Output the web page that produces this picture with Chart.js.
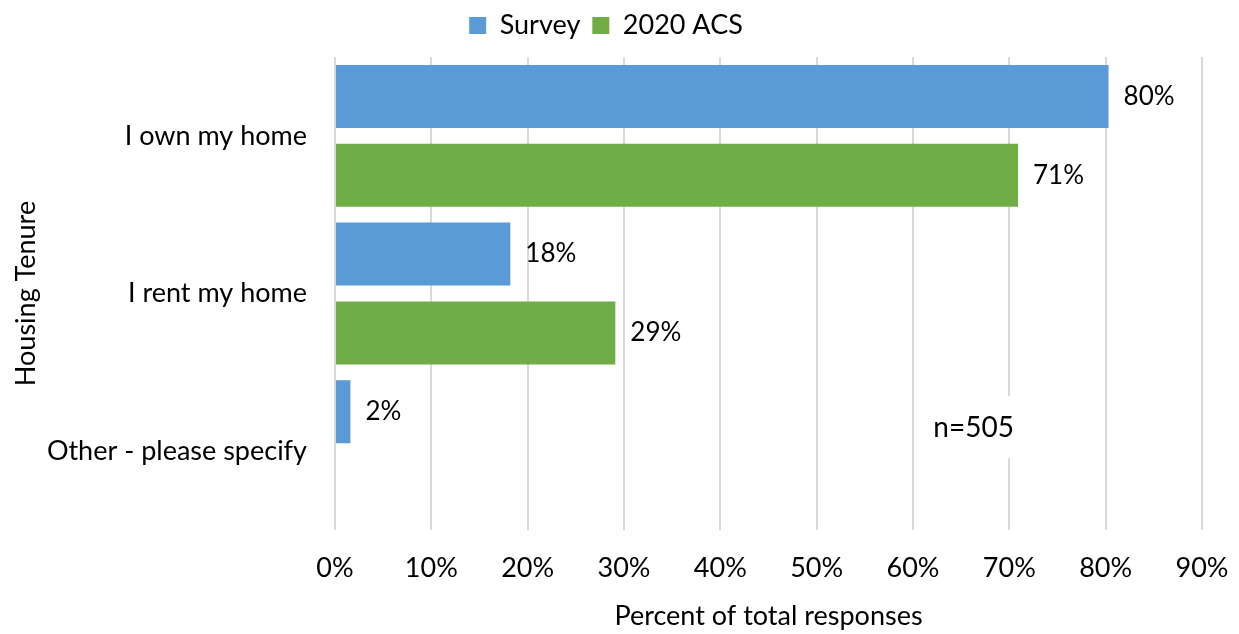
<!DOCTYPE html>
<html>
<head>
<meta charset="utf-8">
<script src="https://cdn.jsdelivr.net/npm/chart.js@4"></script>
<style>
  html, body { margin: 0; padding: 0; background: #fff; }
  #wrap { width: 1239px; height: 634px; }
</style>
</head>
<body>
<div id="wrap"><canvas id="tenureChart" width="1239" height="634"></canvas></div>
<script>
// data
const categories = ["I own my home", "I rent my home", "Other - please specify"];
const surveyValues = [80.3, 18.2, 1.6];
const acsValues = [70.9, 29.1, null];
const seriesNames = ["Survey", "2020 ACS"];
const xTicks = [0, 10, 20, 30, 40, 50, 60, 70, 80, 90];
const sampleNote = "n=505";

const FONT = "Lato, 'Open Sans', sans-serif";

// a bit more room under the legend
const legendGap = {
  id: "legendGap",
  beforeInit(chart) {
    const fit = chart.legend.fit;
    chart.legend.fit = function () {
      fit.bind(chart.legend)();
      this.height += 8;
    };
  }
};

// labels at the end of each bar + the "n=" box
const labelPlugin = {
  id: "barLabels",
  afterDatasetsDraw(chart) {
    const ctx = chart.ctx;
    ctx.save();
    ctx.font = "26px " + FONT;
    ctx.fillStyle = "#000";
    ctx.textBaseline = "middle";
    ctx.textAlign = "left";
    chart.data.datasets.forEach((ds, i) => {
      const meta = chart.getDatasetMeta(i);
      meta.data.forEach((bar, j) => {
        const v = ds.data[j];
        if (v == null) return;
        ctx.fillText(Math.round(v) + "%", bar.x + 15, bar.y);
      });
    });

    // note box
    const xs = chart.scales.x, ys = chart.scales.y;
    const left = xs.getPixelForValue(60) + 1;
    const right = xs.getPixelForValue(70) + 2;
    const cy = ys.getPixelForValue(2) - 23;
    ctx.fillStyle = "#fff";
    ctx.fillRect(left, cy - 32, right - left, 62);
    ctx.fillStyle = "#000";
    ctx.font = "28px " + FONT;
    ctx.textAlign = "center";
    ctx.fillText(sampleNote, (left + right) / 2 + 11, cy);
    ctx.restore();
  }
};

const ctx = document.getElementById("tenureChart").getContext("2d");

new Chart(ctx, {
  type: "bar",
  data: {
    labels: categories,
    datasets: [
      {
        label: seriesNames[0],
        data: surveyValues,
        backgroundColor: "#5B9BD5",
        categoryPercentage: 1.0,
        barPercentage: 0.8
      },
      {
        label: seriesNames[1],
        data: acsValues,
        backgroundColor: "#70AD47",
        categoryPercentage: 1.0,
        barPercentage: 0.8
      }
    ]
  },
  options: {
    indexAxis: "y",
    responsive: false,
    animation: false,
    layout: { padding: { left: 10, right: 37, top: 0, bottom: 2 } },
    plugins: {
      legend: {
        position: "top",
        labels: {
          font: { family: FONT, size: 27 },
          color: "#000",
          boxWidth: 17,
          boxHeight: 17,
          padding: 12
        }
      },
      tooltip: { enabled: false }
    },
    scales: {
      x: {
        min: 0,
        max: 90,
        afterBuildTicks: (scale) => { scale.ticks = xTicks.map(v => ({ value: v })); },
        ticks: {
          callback: (value) => value + "%",
          font: { family: FONT, size: 27 },
          color: "#000",
          padding: 22
        },
        grid: { color: "#D9D9D9", lineWidth: 2, drawTicks: false },
        border: { display: false },
        afterFit: (scale) => {
          scale.height = 102;
          scale.paddingLeft = 0;
          scale.paddingRight = 0;
        },
        title: {
          display: true,
          text: "Percent of total responses",
          font: { family: FONT, size: 27 },
          color: "#000",
          padding: { top: 26, bottom: 0 }
        }
      },
      y: {
        ticks: {
          font: { family: FONT, size: 27 },
          color: "#000",
          padding: 28
        },
        grid: { display: false, drawTicks: false },
        border: { display: false },
        afterFit: (scale) => { scale.width = 325; },
        title: {
          display: true,
          text: "Housing Tenure",
          font: { family: FONT, size: 27 },
          color: "#000",
          padding: 0
        }
      }
    }
  },
  plugins: [legendGap, labelPlugin]
});
</script>
</body>
</html>
